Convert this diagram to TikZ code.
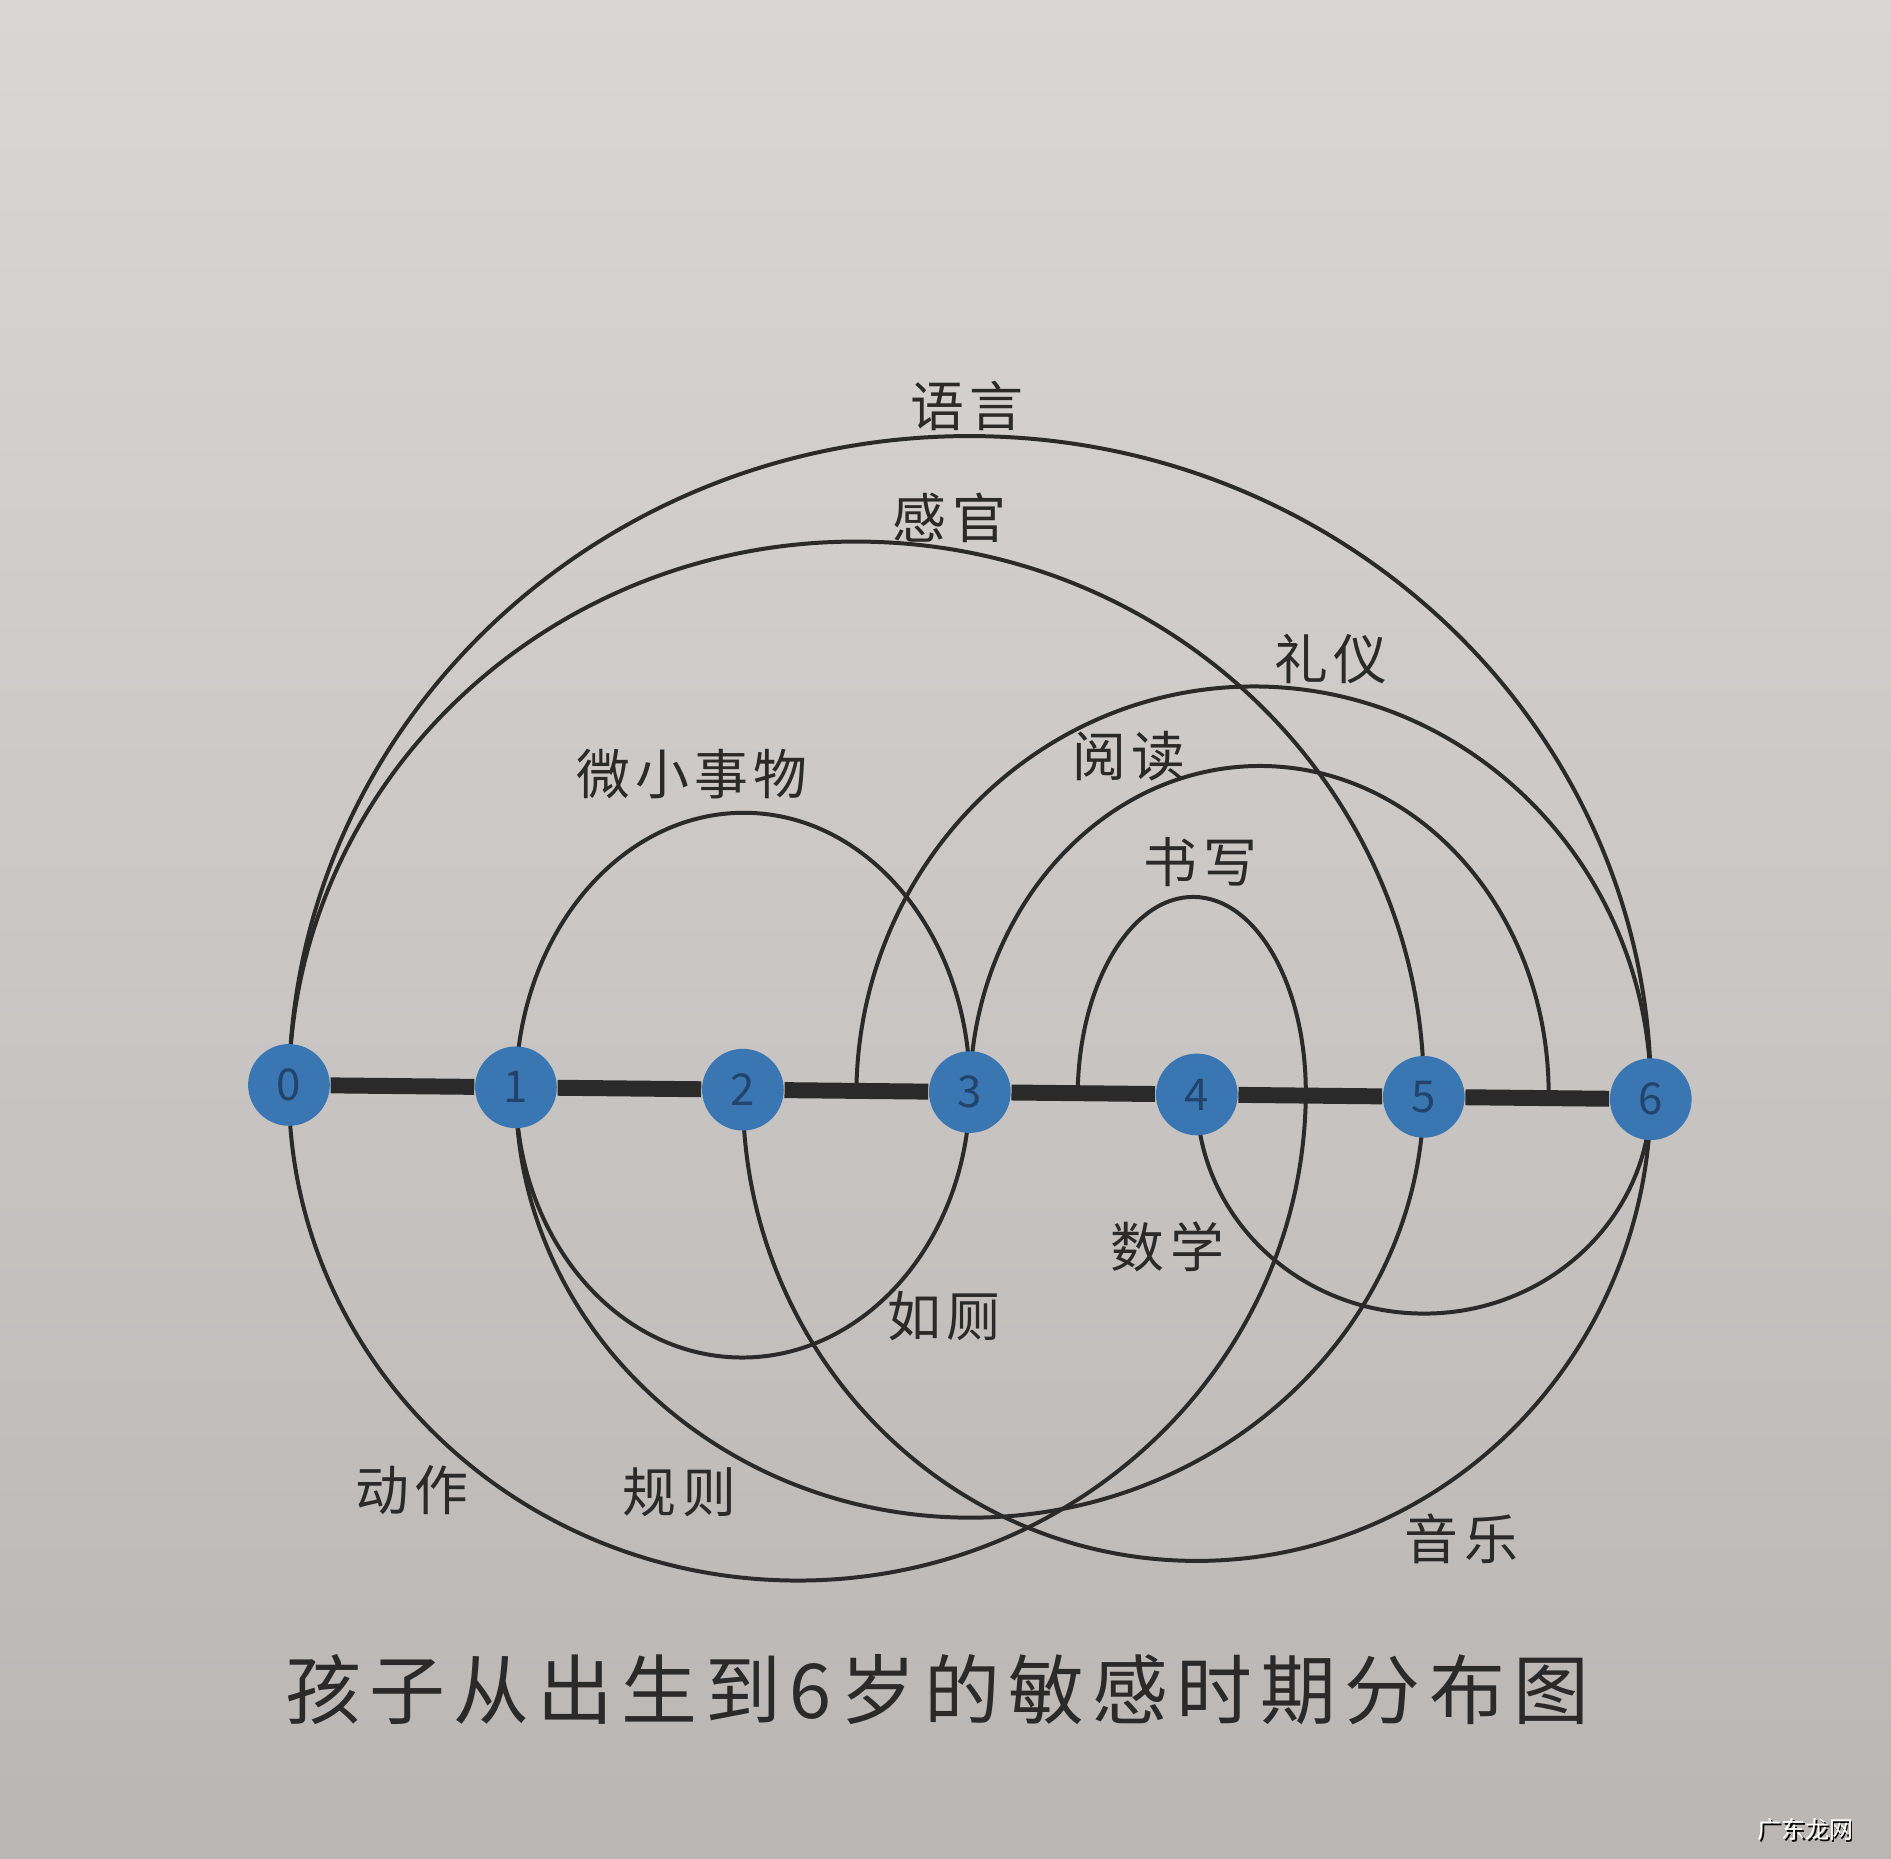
\documentclass[tikz,border=0pt]{standalone}
\usepackage{fontspec}
\setmainfont{Noto Sans CJK SC}
\newfontfamily\labelfont[LetterSpace = 10]{Noto Sans CJK SC}
\newfontfamily\captionfont[LetterSpace = 11]{Noto Sans CJK SC}
\definecolor{papertop}{RGB}{217, 215, 214}
\definecolor{paperbottom}{RGB}{186, 182, 180}
\definecolor{inkgrey}{RGB}{42, 42, 42}
\definecolor{ageblue}{RGB}{58, 118, 178}
\definecolor{digitblue}{RGB}{34, 68, 108}
\begin{document}
\begin{tikzpicture}[
        arcline/.style = {draw = inkgrey, line width = 1pt},
        agenode/.style = {circle, fill = ageblue, minimum size = 0.72cm, inner sep = 0pt,
            text = digitblue, font = \fontsize{11pt}{11pt}\selectfont},
        periodlabel/.style = {text = inkgrey, font = \labelfont\fontsize{13.5pt}{16pt}\selectfont}
    ]
    \shade[top color = papertop, bottom color = paperbottom] (-2.546, -6.819) rectangle (14.115, 9.559);
    \useasboundingbox (-2.546, -6.819) rectangle (14.115, 9.559);
    \scope[rotate = -0.6]
        % one year = 2cm
        \foreach \k in {0, ..., 6}
            \coordinate (y\k) at (2 * \k, 0);
        \coordinate (ytwohalf) at (5, 0);
        \coordinate (ythreehalf) at (6.95, 0);
        \coordinate (yfivehalf) at (11.1, 0);
        \coordinate (yfourhalf) at (8.96, 0);
        % periods above the line
        \draw[arcline] (y0) arc[start angle = 180, end angle = 0, x radius = 6, y radius = 5.78];
        \draw[arcline] (y0) arc[start angle = 180, end angle = 0, x radius = 5, y radius = 4.84];
        \draw[arcline] (y1) arc[start angle = 180, end angle = 0, x radius = 2, y radius = 2.44];
        \draw[arcline] (ytwohalf) arc[start angle = 180, end angle = 0, x radius = 3.5, y radius = 3.6];
        \draw[arcline] (y3) arc[start angle = 180, end angle = 0, x radius = 2.55, y radius = 2.9];
        \draw[arcline] (ythreehalf) arc[start angle = 180, end angle = 0, x radius = 1.005, y radius = 1.74];
        % periods below the line
        \draw[arcline] (y1) arc[start angle = 180, end angle = 360, x radius = 2, y radius = 2.36];
        \draw[arcline] (y1) arc[start angle = 180, end angle = 360, x radius = 4, y radius = 3.75];
        \draw[arcline] (y2) arc[start angle = 180, end angle = 360, x radius = 4, y radius = 4.11];
        \draw[arcline] (y4) arc[start angle = 180, end angle = 360, x radius = 2, y radius = 1.91];
        \draw[arcline] (y0) arc[start angle = 180, end angle = 360, x radius = 4.48, y radius = 4.32];
        % ages
        \foreach \k in {0, ..., 6}
            \node[agenode] (n\k) at (y\k) {\k};
        \foreach \k [evaluate = \k as \j using int(\k + 1)] in {0, ..., 5}
            \draw[inkgrey, line width = 4pt] (n\k) -- (n\j);
    \endscope
    \node[periodlabel] (lang) at (5.97, 5.98) {语言};
    \node[periodlabel] (sense) at (5.82, 5.00) {感官};
    \node[periodlabel] (tiny) at (3.55, 2.74) {微小事物};
    \node[periodlabel] (manner) at (9.18, 3.75) {礼仪};
    \node[periodlabel] (read) at (7.40, 2.90) {阅读};
    \node[periodlabel] (write) at (8.03, 1.96) {书写};
    \node[periodlabel] (maths) at (7.74, -1.43) {数学};
    \node[periodlabel] (toilet) at (5.77, -2.04) {如厕};
    \node[periodlabel] (move) at (1.08, -3.57) {动作};
    \node[periodlabel] (rules) at (3.44, -3.59) {规则};
    \node[periodlabel] (music) at (10.33, -4.00) {音乐};
    \node[text = inkgrey, font = \captionfont\fontsize{19pt}{23pt}\selectfont] (caption) at (5.71, -5.33)
        {孩子从出生到6岁的敏感时期分布图};
    \node[text = black, font = \fontsize{6pt}{7pt}\selectfont] (markshadow) at (13.375, -6.575) {广东龙网};
    \node[text = white, font = \fontsize{6pt}{7pt}\selectfont] (mark) at (13.36, -6.56) {广东龙网};
\end{tikzpicture}
\end{document}
